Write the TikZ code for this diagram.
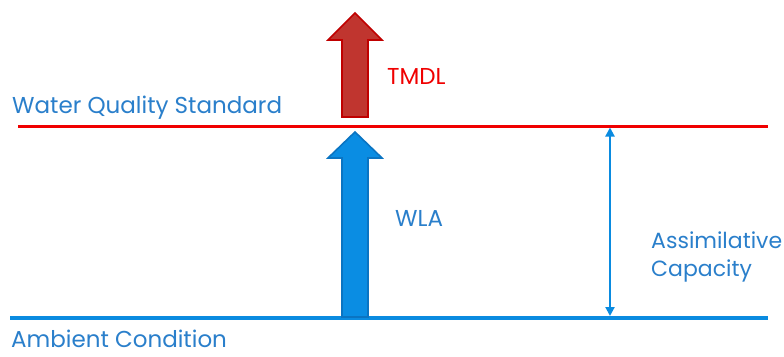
\documentclass[tikz,border=0pt]{standalone}
\usepackage{fontspec}
\setmainfont{Poppins}
\usetikzlibrary{arrows.meta}
\definecolor{txtblue}{HTML}{2A7FCB}
\definecolor{lineblue}{HTML}{0A8BE0}
\definecolor{arrowblue}{HTML}{0A8DE3}
\definecolor{arrowblueedge}{HTML}{0A74C2}
\definecolor{stdred}{HTML}{F00000}
\definecolor{arrowred}{HTML}{C0352F}
\definecolor{arrowrededge}{HTML}{C00000}
\tikzset{
  lbl/.style={font=\fontsize{23}{26}\selectfont, inner sep=0pt, anchor=base west},
  bluelbl/.style={lbl, text=txtblue},
  redlbl/.style={lbl, text=stdred},
  smalllbl/.style={bluelbl, font=\fontsize{22}{25}\selectfont},
  fatarrow/.style={line width=1.6pt, line join=miter},
}
\begin{document}
\begin{tikzpicture}[x=1pt, y=-1pt]
  \useasboundingbox[fill=white] (0,0) rectangle (784,356);

  % reference levels
  \coordinate (stdL) at (18,126);
  \coordinate (stdR) at (768,126);
  \coordinate (ambL) at (10,318);
  \coordinate (ambR) at (768,318);
  \draw[stdred, line width=3pt] (stdL) -- (stdR);
  \draw[lineblue, line width=4pt] (ambL) -- (ambR);

  % TMDL arrow above the standard
  \draw[fatarrow, draw=arrowrededge, fill=arrowred]
    (342,117) -- (342,40) -- (328,40) -- (355,13) -- (382,40) -- (368,40) -- (368,117) -- cycle;

  % WLA arrow from ambient up to the standard
  \draw[fatarrow, draw=arrowblueedge, fill=arrowblue]
    (342,317) -- (342,158) -- (328,158) -- (355,132) -- (382,158) -- (368,158) -- (368,317) -- cycle;

  % assimilative capacity span
  \coordinate (capT) at (610,127.5);
  \coordinate (capB) at (610,316);
  \draw[lineblue, line width=2pt, {Stealth[length=9pt,width=9pt,inset=0pt]}-{Stealth[length=9pt,width=9pt,inset=0pt]}]
    (capT) -- (capB);

  % labels
  \node[bluelbl] (wqs) at (12,113) {Water Quality Standard};
  \node[bluelbl] (amb) at (11,347) {Ambient Condition};
  \node[redlbl] (tmdl) at (387,84) {TMDL};
  \node[bluelbl] (wla) at (395,226) {WLA};
  \node[smalllbl] (cap1) at (651,248) {Assimilative};
  \node[smalllbl] (cap2) at (651,276) {Capacity};
\end{tikzpicture}
\end{document}
